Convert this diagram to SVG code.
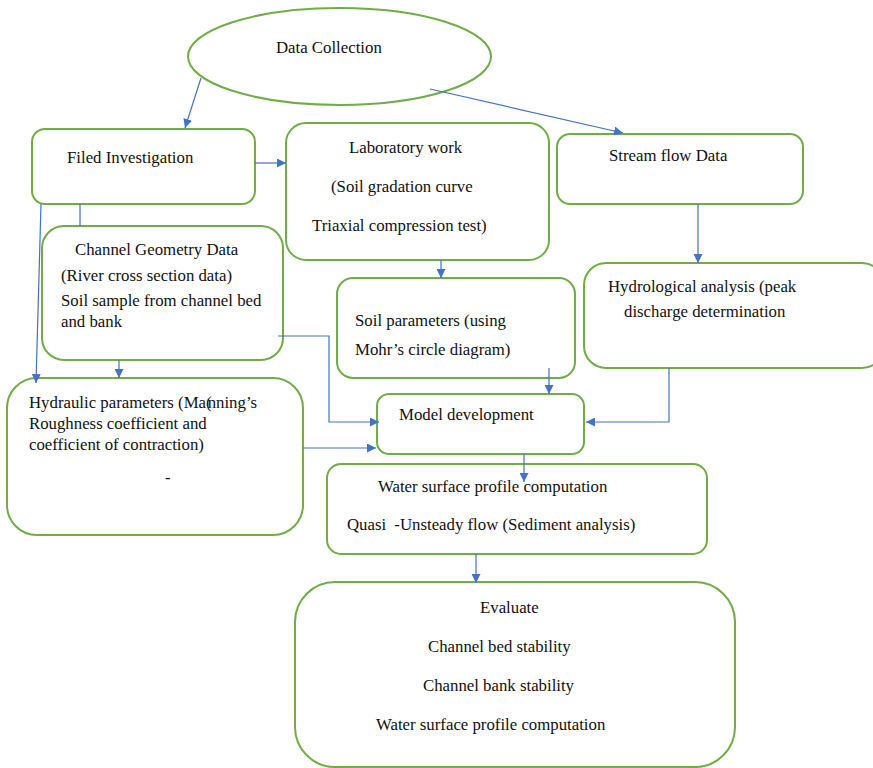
<svg xmlns="http://www.w3.org/2000/svg" width="873" height="768" viewBox="0 0 873 768">
<style>
.box{fill:#fff;stroke:#70AD47;stroke-width:2}
.t{font-family:"Liberation Serif","Times New Roman",serif;font-size:16.8px;fill:#111}
.c{fill:none;stroke:#4472C4;stroke-width:1.2}
</style>
<defs>
<marker id="ah" viewBox="0 0 10 10" refX="10" refY="5" markerWidth="9" markerHeight="9" markerUnits="userSpaceOnUse" orient="auto">
<path d="M0,0 L10,5 L0,10 z" fill="#4472C4"/>
</marker>
</defs>
<rect width="873" height="768" fill="#fff"/>
<g id="n-data">
<ellipse class="box" cx="339.5" cy="56.5" rx="151.5" ry="48.5"/>
<text class="t" x="276" y="53">Data Collection</text>
</g>
<g id="n-filed">
<rect class="box" x="32" y="129" width="223" height="75" rx="13"/>
<text class="t" x="67" y="163">Filed Investigation</text>
</g>
<g id="n-lab">
<rect class="box" x="286" y="123" width="263" height="137" rx="20"/>
<text class="t" x="349" y="153">Laboratory work</text>
<text class="t" x="331" y="192">(Soil gradation curve</text>
<text class="t" x="312" y="231">Triaxial compression test)</text>
</g>
<g id="n-stream">
<rect class="box" x="557" y="134" width="246" height="70" rx="13"/>
<text class="t" x="609" y="161">Stream flow Data</text>
</g>
<g id="n-channel">
<rect class="box" x="42" y="226" width="241" height="134" rx="22"/>
<text class="t" x="75" y="255">Channel Geometry Data</text>
<text class="t" x="61" y="281">(River cross section data)</text>
<text class="t" x="61" y="306">Soil sample from channel bed</text>
<text class="t" x="61" y="327">and bank</text>
</g>
<g id="n-hydro">
<rect class="box" x="584" y="263" width="300" height="105" rx="22"/>
<text class="t" x="608" y="292">Hydrological analysis (peak</text>
<text class="t" x="624" y="317">discharge determination</text>
</g>
<g id="n-soil">
<rect class="box" x="337" y="278" width="238" height="100" rx="16"/>
<text class="t" x="355" y="326">Soil parameters (using</text>
<text class="t" x="355" y="355">Mohr’s circle diagram)</text>
</g>
<g id="n-hydraulic">
<rect class="box" x="7" y="378" width="296" height="157" rx="30"/>
<text class="t" x="29" y="408">Hydraulic parameters (Ma<tspan>(</tspan><tspan dx="-4">nning’s</tspan></text>
<text class="t" x="29" y="429">Roughness coefficient and</text>
<text class="t" x="29" y="450">coefficient of contraction)</text>
<text class="t" x="165" y="483">-</text>
</g>
<g id="n-model">
<rect class="box" x="377" y="394" width="207" height="60" rx="12"/>
<text class="t" x="399" y="420">Model development</text>
</g>
<g id="n-water">
<rect class="box" x="327" y="464" width="380" height="90" rx="14"/>
<text class="t" x="378" y="492">Water surface profile computation</text>
<text class="t" x="347" y="530">Quasi <tspan dx="4">-Unsteady flow (Sediment analysis)</tspan></text>
</g>
<g id="n-evaluate">
<rect class="box" x="295" y="582" width="440" height="185" rx="40"/>
<text class="t" x="480" y="613">Evaluate</text>
<text class="t" x="428" y="652">Channel bed stability</text>
<text class="t" x="423" y="691">Channel bank stability</text>
<text class="t" x="376" y="730">Water surface profile computation</text>
</g>
<g id="connectors">
<path class="c" d="M201,78 L185,128" marker-end="url(#ah)"/>
<path class="c" d="M430,89 L623,133" marker-end="url(#ah)"/>
<path class="c" d="M255,163 L286,163" marker-end="url(#ah)"/>
<path class="c" d="M698,204 L698,263" marker-end="url(#ah)"/>
<path class="c" d="M80,204 L80,226"/>
<path class="c" d="M41,204 L36,383" marker-end="url(#ah)"/>
<path class="c" d="M119,360 L119,378" marker-end="url(#ah)"/>
<path class="c" d="M441,260 L441,278" marker-end="url(#ah)"/>
<path class="c" d="M549,368 L549,394" marker-end="url(#ah)"/>
<path class="c" d="M278,336 L329,336 L329,422 L379,422" marker-end="url(#ah)"/>
<path class="c" d="M303,448 L376,448" marker-end="url(#ah)"/>
<path class="c" d="M669,368 L669,422 L586,422" marker-end="url(#ah)"/>
<path class="c" d="M524,454 L524,482" marker-end="url(#ah)"/>
<path class="c" d="M476,554 L476,583" marker-end="url(#ah)"/>
</g>
</svg>
